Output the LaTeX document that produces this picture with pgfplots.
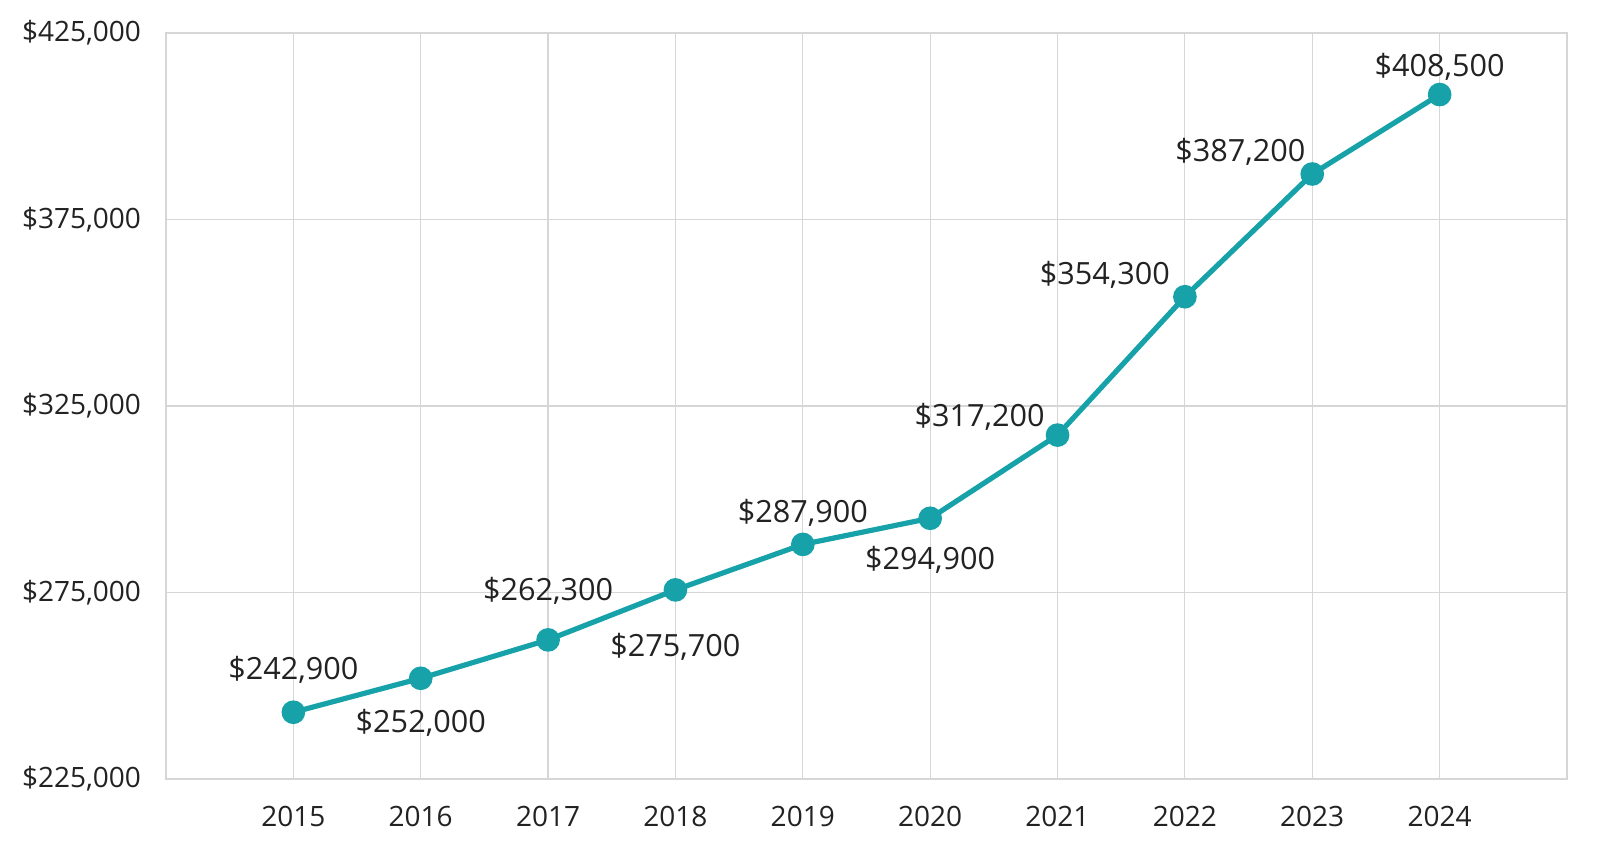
\documentclass[border=0pt]{standalone}
\usepackage{fontspec}
\setmainfont{Open Sans}
\usepackage{pgfplots}
\pgfplotsset{compat=1.18}
\definecolor{teal1}{HTML}{17A2AA}
\definecolor{gridc}{HTML}{D6D6D6}
\definecolor{txt}{HTML}{222222}
\begin{document}
\begin{tikzpicture}
\begin{axis}[
  at={(83pt,40pt)}, anchor=south west,
  scale only axis, width=700.5pt, height=373pt,
  xmin=2014, xmax=2025, ymin=225000, ymax=425000,
  xtick={2015,...,2024},
  xticklabel style={/pgf/number format/1000 sep={}},
  ytick={225000,275000,325000,375000,425000},
  yticklabel={\$\pgfmathprintnumber[fixed,1000 sep={,}]{\tick}},
  scaled y ticks=false,
  /pgf/number format/assume math mode=true,
  ticklabel style={font=\fontsize{14}{16}\selectfont, text=txt},
  xticklabel style={yshift=-10pt},
  yticklabel style={xshift=-9pt},
  xmajorgrids, ymajorgrids,
  grid style={gridc, line width=0.6pt},
  axis line style={gridc, line width=0.6pt},
  major tick length=0pt,
  every node near coord/.append style={font=\fontsize{15.3}{17}\selectfont, text=txt},
  nodes near coords={\$\pgfmathprintnumber[fixed,1000 sep={,}]{\pgfplotspointmeta}},
  point meta=explicit,
  clip=false,
]
\addplot[teal1, line width=2.6pt, mark=*, mark size=4.6pt,
  mark options={fill=teal1, draw=teal1},
  visualization depends on={value \thisrow{dx} \as \dx},
  visualization depends on={value \thisrow{dy} \as \dy},
  nodes near coords style={anchor=center, inner sep=0pt, xshift=\dx pt, yshift=\dy pt},
  ]
  table[x=x, y=y, meta=y] {
  x    y      dx   dy
  2015 242900 0    21
  2016 252000 0    -22.5
  2017 262300 0    24.5
  2018 275700 0    -28.5
  2019 287900 0    16
  2020 294900 0    -21
  2021 317200 -39  9
  2022 354300 -40  11
  2023 387200 -36  11
  2024 408500 0    14
  };
\end{axis}
\pgfresetboundingbox
\path (0,0) rectangle (800pt,429.5pt);
\end{tikzpicture}
\end{document}
